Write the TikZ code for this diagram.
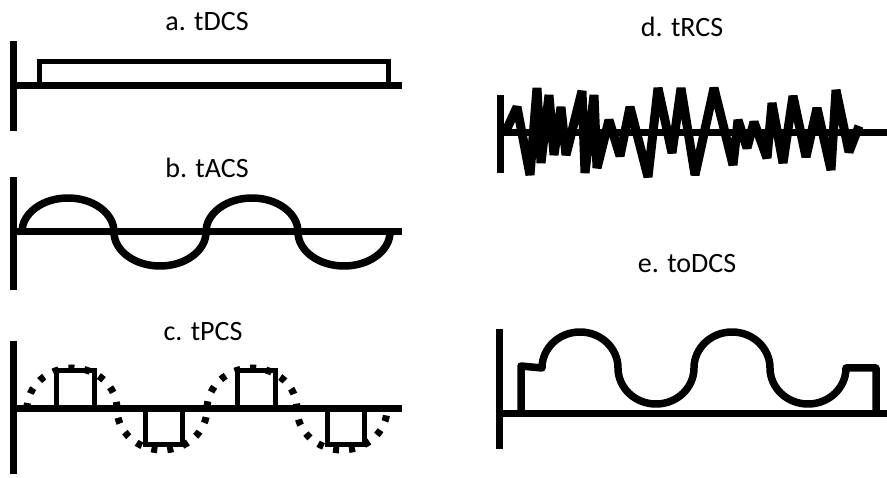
\documentclass[tikz,border=0pt]{standalone}
\usepackage{fontspec}
\setmainfont{Carlito}
\usetikzlibrary{positioning}
\tikzset{
  tsaxis/.style={draw=black, line width=7pt},
  tswave/.style={draw=black, line width=7.5pt, line join=round},
  tsbox/.style={draw=black, line width=5pt},
  tsdots/.style={draw=black, line width=7pt, dash pattern=on 6pt off 10pt},
  tsspike/.style={draw=black, line width=9pt, line join=bevel},
  tslabel/.style={anchor=base, font=\fontsize{28}{32}\selectfont, text=black},
}

\begin{document}
\begin{tikzpicture}[x=1pt, y=1pt]
\useasboundingbox (0,0) rectangle (887,-478);

% Panel a: direct current.
\node[tslabel] (lblA) at (207,-31) {a. tDCS};
\draw[tsaxis] (13,-41) -- (13,-131);
\draw[tsaxis] (13,-86) -- (402,-86);
\draw[tsbox] (39,-86) -- (39,-62) -- (388,-62) -- (388,-86);

% Panel b: alternating current.
\node[tslabel] (lblB) at (207,-178) {b. tACS};
\draw[tsaxis] (13,-177) -- (13,-290);
\draw[tsaxis] (13,-232) -- (402,-232);
\draw[tswave] (22,-232)
  arc[start angle=180, end angle=0, x radius=46, y radius=34]
  arc[start angle=180, end angle=360, x radius=46, y radius=34]
  arc[start angle=180, end angle=0, x radius=46, y radius=34]
  arc[start angle=180, end angle=360, x radius=46, y radius=34];

% Panel c: pulsed current under a dotted envelope.
\node[tslabel] (lblC) at (203,-341) {c. tPCS};
\draw[tsaxis] (13,-341) -- (13,-474);
\draw[tsaxis] (13,-409) -- (402,-409);
\draw[tsdots] (27,-409)
  arc[start angle=180, end angle=0, x radius=45, y radius=41]
  arc[start angle=180, end angle=360, x radius=45, y radius=41]
  arc[start angle=180, end angle=0, x radius=45, y radius=41]
  arc[start angle=180, end angle=360, x radius=45, y radius=41];
\foreach \xa/\xb in {56/94, 237/275} {
  \draw[tsbox] (\xa,-409) -- (\xa,-371) -- (\xb,-371) -- (\xb,-409);
}
\foreach \xa/\xb in {145/182, 327/364} {
  \draw[tsbox] (\xa,-409) -- (\xa,-445) -- (\xb,-445) -- (\xb,-409);
}

% Panel d: random noise.
\node[tslabel] (lblD) at (682,-37) {d. tRCS};
\draw[tsaxis] (500,-95) -- (500,-173);
\draw[tsaxis] (500,-133) -- (887,-133);
\draw[tsspike] (505,-133) -- (517,-107) -- (530,-175) -- (537,-88)
  -- (541,-163) -- (549,-95) -- (554,-155) -- (561,-107) -- (566,-155)
  -- (582,-91) -- (585,-173) -- (594,-95) -- (597,-168) -- (609,-120)
  -- (620,-156) -- (630,-107) -- (648,-177) -- (658,-88) -- (672,-153)
  -- (681,-88) -- (695,-175) -- (714,-88) -- (733,-165) -- (738,-120)
  -- (747,-148) -- (754,-122) -- (767,-158) -- (772,-103) -- (783,-163)
  -- (793,-96) -- (806,-157) -- (817,-108) -- (831,-170) -- (836,-90)
  -- (849,-152) -- (859,-126);

% Panel e: oscillating direct current.
\node[tslabel] (lblE) at (687,-273) {e. toDCS};
\draw[tsaxis] (499,-329) -- (499,-449);
\draw[tsaxis] (499,-414) -- (887,-414);
\draw[tswave] (521,-414) -- (521,-366) -- (542,-368)
  arc[start angle=180, end angle=0, x radius=38, y radius=36]
  arc[start angle=180, end angle=360, x radius=38, y radius=36]
  arc[start angle=180, end angle=0, x radius=38, y radius=36]
  arc[start angle=180, end angle=360, x radius=38, y radius=36]
  -- (876,-368) -- (876,-414);

\end{tikzpicture}
\end{document}
